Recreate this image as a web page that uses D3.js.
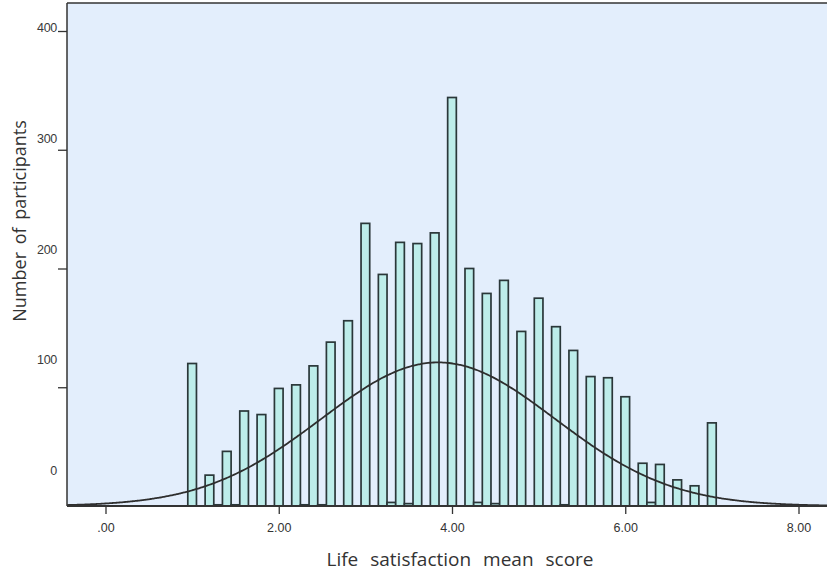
<!DOCTYPE html>
<html>
<head>
<meta charset="utf-8">
<script src="https://cdn.jsdelivr.net/npm/d3@7"></script>
<style>
  html, body { margin: 0; padding: 0; background: #ffffff; }
  svg { display: block; }
</style>
</head>
<body>
<svg id="chart" width="827" height="576"></svg>
<script>
// ---- data ----
const binMids = [
  1.0, 1.1, 1.2, 1.3, 1.4, 1.5, 1.6, 1.7, 1.8, 1.9,
  2.0, 2.1, 2.2, 2.3, 2.4, 2.5, 2.6, 2.7, 2.8, 2.9,
  3.0, 3.1, 3.2, 3.3, 3.4, 3.5, 3.6, 3.7, 3.8, 3.9,
  4.0, 4.1, 4.2, 4.3, 4.4, 4.5, 4.6, 4.7, 4.8, 4.9,
  5.0, 5.1, 5.2, 5.3, 5.4, 5.5, 5.6, 5.7, 5.8, 5.9,
  6.0, 6.1, 6.2, 6.3, 6.4, 6.5, 6.6, 6.7, 6.8, 6.9,
  7.0
];
const counts = [
  120, 0, 26, 1, 46, 1, 80, 0, 77, 0,
  99, 0, 102, 1, 118, 1, 138, 0, 156, 0,
  238, 0, 195, 3, 222, 2, 221, 0, 230, 0,
  344, 0, 200, 3, 179, 2, 190, 0, 147, 0,
  175, 0, 151, 1, 131, 0, 109, 0, 108, 0,
  92, 0, 36, 3, 35, 0, 22, 0, 17, 0,
  70
];
const binWidth = 0.1;
const curveMean = 3.84;
const curveSD = 1.35;

const xTickValues = [0, 2, 4, 6, 8];
const xTickLabels = [".00", "2.00", "4.00", "6.00", "8.00"];
const yTickValues = [0, 100, 200, 300, 400];
const yTickLabels = ["0", "100", "200", "300", "400"];

const xTitle = "Life satisfaction mean score";
const yTitle = "Number of participants";

// ---- layout ----
const svg = d3.select("#chart");
const plot = { left: 67, top: 3, right: 827, bottom: 506 };

const x = d3.scaleLinear().domain([0, 8]).range([105.5, 798.5]);
const y = d3.scaleLinear().domain([0, 400]).range([506, 31]);
// the tick labels in the original sit on their own (offset) positions
const yLabelPos = d3.scaleLinear().domain([0, 400]).range([470.7, 27.3]);

svg.append("rect").attr("width", 827).attr("height", 576).attr("fill", "#ffffff");

svg.append("defs").append("clipPath").attr("id", "clip")
  .append("rect")
  .attr("x", plot.left).attr("y", plot.top)
  .attr("width", plot.right - plot.left).attr("height", plot.bottom - plot.top);

svg.append("rect")
  .attr("x", plot.left).attr("y", plot.top)
  .attr("width", plot.right - plot.left).attr("height", plot.bottom - plot.top)
  .attr("fill", "#E3EEFC");

const g = svg.append("g").attr("clip-path", "url(#clip)");

// bars
const bins = binMids.map((m, i) => ({ mid: m, n: counts[i] })).filter(d => d.n > 0);
g.selectAll("rect.bar").data(bins).enter().append("rect")
  .attr("class", "bar")
  .attr("x", d => x(d.mid - binWidth / 2))
  .attr("width", d => x(d.mid + binWidth / 2) - x(d.mid - binWidth / 2))
  .attr("y", d => y(d.n))
  .attr("height", d => y(0) - y(d.n))
  .attr("fill", "#BDEDEA")
  .attr("stroke", "#2a3739")
  .attr("stroke-width", 1.7);

// normal curve
const total = d3.sum(counts);
const xmin = x.invert(plot.left), xmax = x.invert(plot.right);
const pts = d3.range(0, 401).map(i => {
  const v = xmin + (xmax - xmin) * i / 400;
  const dens = Math.exp(-0.5 * Math.pow((v - curveMean) / curveSD, 2)) / (curveSD * Math.sqrt(2 * Math.PI));
  return [v, total * binWidth * dens];
});
g.append("path")
  .datum(pts)
  .attr("fill", "none")
  .attr("stroke", "#2e2e2e")
  .attr("stroke-width", 1.8)
  .attr("d", d3.line().x(d => x(d[0])).y(d => y(d[1])).curve(d3.curveBasis));

// frame
svg.append("line").attr("x1", plot.left).attr("x2", plot.left).attr("y1", plot.top).attr("y2", plot.bottom)
  .attr("stroke", "#333").attr("stroke-width", 1.5);
svg.append("line").attr("x1", plot.left).attr("x2", plot.right).attr("y1", plot.top).attr("y2", plot.top)
  .attr("stroke", "#333").attr("stroke-width", 1.5);
svg.append("line").attr("x1", plot.left).attr("x2", plot.right).attr("y1", plot.bottom).attr("y2", plot.bottom)
  .attr("stroke", "#333").attr("stroke-width", 2);

// x axis
const xAxis = svg.append("g").attr("transform", `translate(0,${plot.bottom})`)
  .call(d3.axisBottom(x).tickValues(xTickValues)
    .tickFormat((d, i) => xTickLabels[i]).tickSize(8).tickPadding(9).tickSizeOuter(0));
xAxis.select(".domain").remove();
xAxis.selectAll(".tick line").attr("stroke", "#333").attr("stroke-width", 1.3);
xAxis.selectAll(".tick text")
  .attr("font-family", "'Liberation Sans', Arial, sans-serif")
  .attr("font-size", 12.5).attr("fill", "#333");

// y axis (tick marks on the scale, labels on their own offset positions)
const yAxis = svg.append("g").attr("transform", `translate(${plot.left},0)`)
  .call(d3.axisLeft(y).tickValues(yTickValues)
    .tickFormat((d, i) => yTickLabels[i]).tickSize(9).tickPadding(1).tickSizeOuter(0));
yAxis.select(".domain").remove();
yAxis.selectAll(".tick line").attr("stroke", "#333").attr("stroke-width", 1.3)
  .attr("display", d => d === 0 ? "none" : null);
yAxis.selectAll(".tick text")
  .attr("font-family", "'Liberation Sans', Arial, sans-serif")
  .attr("font-size", 12.5).attr("fill", "#3a3a3a")
  .attr("letter-spacing", -0.3)
  .attr("y", d => yLabelPos(d) - y(d));

// titles
svg.append("text")
  .attr("x", 460).attr("y", 566)
  .attr("text-anchor", "middle")
  .attr("font-family", "'Open Sans', sans-serif")
  .attr("font-size", 19).attr("fill", "#333")
  .attr("word-spacing", 7)
  .text(xTitle);

svg.append("text")
  .attr("transform", "translate(26,221) rotate(-90)")
  .attr("text-anchor", "middle")
  .attr("font-family", "'Open Sans', sans-serif")
  .attr("font-size", 18).attr("fill", "#333")
  .attr("word-spacing", 3)
  .text(yTitle);
</script>
</body>
</html>
